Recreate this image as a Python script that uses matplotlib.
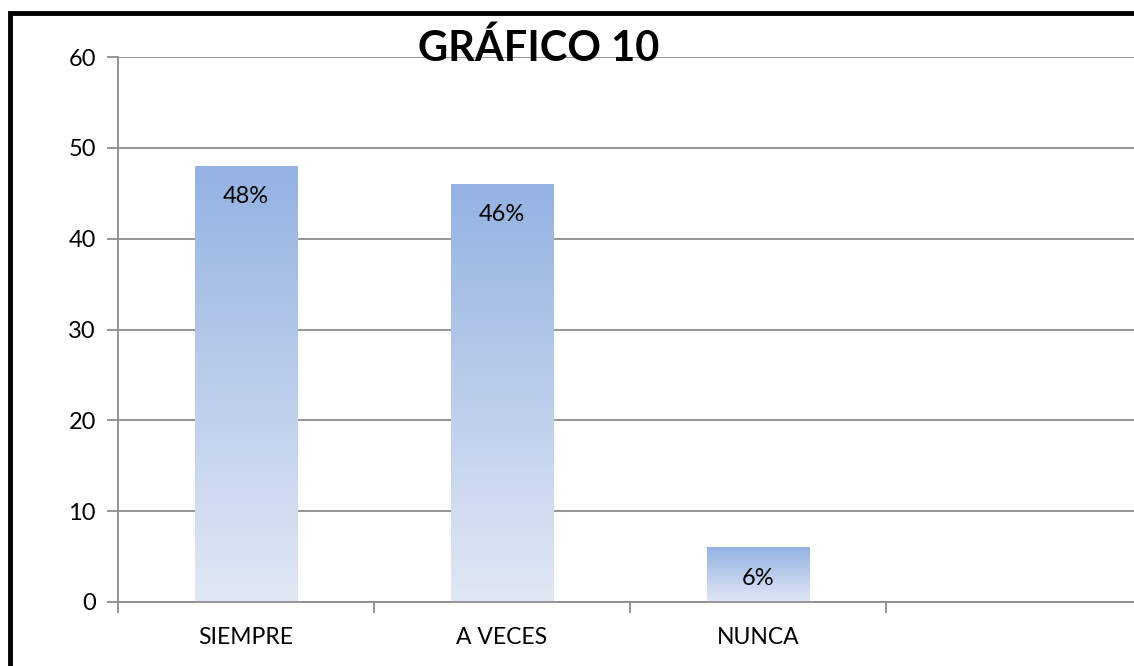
import matplotlib.pyplot as plt
import matplotlib.patches as patches
from matplotlib.colors import LinearSegmentedColormap
import numpy as np

plt.rcParams['font.family'] = ['Lato', 'DejaVu Sans']

# data
categories = ["SIEMPRE", "A VECES", "NUNCA", ""]
values = [48, 46, 6]
labels = ["48%", "46%", "6%"]

fig = plt.figure(figsize=(11.34, 6.66), dpi=100)
ax = fig.add_axes([118 / 1134, 64 / 666, 1024 / 1134, 545 / 666])

# gradient: pale at the bottom, blue at the top of each bar
cmap = LinearSegmentedColormap.from_list("barfill", ["#e1e8f5", "#94b2e2"])
grad = np.linspace(0, 1, 256).reshape(-1, 1)
bar_w = 0.4
bars = ax.bar(range(len(values)), values, width=bar_w, color="none", zorder=2)
for b, lab in zip(bars, labels):
    x0, h = b.get_x(), b.get_height()
    ax.imshow(grad, cmap=cmap, origin="lower", aspect="auto",
              extent=(x0, x0 + bar_w, 0, h), zorder=2)
    ax.annotate(lab, (x0 + bar_w / 2, h), xytext=(0, -22), textcoords="offset points",
                ha="center", va="center", fontsize=17, color="black", zorder=3)

ax.set_xlim(-0.5, len(categories) - 0.5)
ax.set_ylim(0, 60)
ax.set_yticks(range(0, 61, 10))
ax.yaxis.grid(True, color="#8c8c8c", linewidth=1.3, zorder=0)
ax.set_axisbelow(True)

# category boundaries as major ticks, names on minor ticks
ax.set_xticks(np.arange(-0.5, len(categories), 1.0))
ax.set_xticklabels([])
ax.set_xticks(range(len(categories)), minor=True)
ax.set_xticklabels(categories, minor=True, fontsize=16.5)
ax.tick_params(axis="x", which="major", length=8, width=1.3, color="#8c8c8c", direction="out")
ax.tick_params(axis="x", which="minor", length=0, pad=18)
ax.tick_params(axis="y", length=8, width=1.3, color="#8c8c8c", labelsize=17, pad=8)

for s in ["top", "right"]:
    ax.spines[s].set_visible(False)
for s in ["left", "bottom"]:
    ax.spines[s].set_color("#8c8c8c")
    ax.spines[s].set_linewidth(1.3)

fig.text(539 / 1134, 1 - 48 / 666, "GRÁFICO 10", ha="center", va="center",
         fontsize=30, fontweight="bold")

# black outer frame
frame = patches.Rectangle((10 / 1134, -0.1), 1.2, (666 - 13) / 666 + 0.1,
                          transform=fig.transFigure, fill=False,
                          edgecolor="black", linewidth=3.5)
fig.patches.append(frame)

fig.savefig("out.png", dpi=100)
